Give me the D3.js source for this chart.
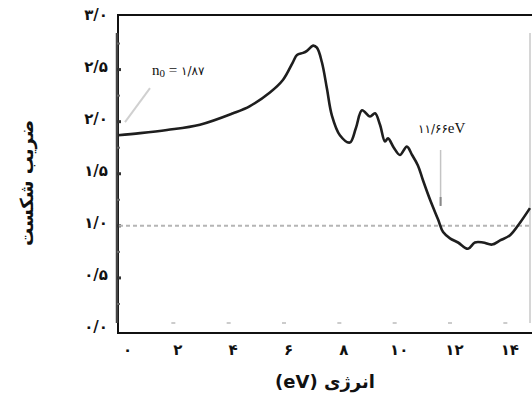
<!DOCTYPE html>
<html>
<head>
<meta charset="utf-8">
<script src="https://cdn.jsdelivr.net/npm/d3@7"></script>
<style>
  html, body { margin: 0; padding: 0; background: #fff; }
  svg { display: block; }
</style>
</head>
<body>
<svg id="chart" width="532" height="398"></svg>
<script>
// Refractive index spectrum: photon energy (eV) vs refractive index n
const energy = [0, 0.80, 1.77, 2.96, 4.16, 4.77, 5.49, 5.96, 6.32, 6.47, 6.69, 6.83, 7.05, 7.19,
  7.37, 7.55, 7.73, 8.02, 8.38, 8.60, 8.82, 9.11, 9.29, 9.47, 9.65, 9.76, 9.97, 10.19, 10.44,
  10.63, 10.84, 11.02, 11.28, 11.57, 11.75, 12.00, 12.29, 12.65, 12.90, 13.19, 13.52, 13.81,
  14.17, 14.53, 14.89];
const refIndex = [1.87, 1.89, 1.92, 1.97, 2.08, 2.15, 2.28, 2.40, 2.57, 2.64, 2.66, 2.68, 2.73, 2.71,
  2.57, 2.32, 2.06, 1.87, 1.80, 1.94, 2.11, 2.05, 2.08, 1.97, 1.81, 1.84, 1.75, 1.68, 1.76,
  1.68, 1.58, 1.44, 1.25, 1.06, 0.94, 0.88, 0.84, 0.78, 0.84, 0.84, 0.82, 0.86,
  0.91, 1.03, 1.17];

const xTicks = [0, 2, 4, 6, 8, 10, 12, 14];
const xTickLabels = ["۰", "۲", "۴", "۶", "۸", "۱۰", "۱۲", "۱۴"];
const yTicks = [0, 0.5, 1, 1.5, 2, 2.5, 3];
const yTickLabels = ["۰/۰", "۰/۵", "۱/۰", "۱/۵", "۲/۰", "۲/۵", "۳/۰"];
const yMinorTicks = [0.25, 0.75, 1.25, 1.75, 2.25, 2.75];

const n0 = 1.87;
const n0Label = "۱/۸۷";
const edgeEnergy = 11.66;
const edgeLabel = "۱۱/۶۶";
const edgeUnit = "eV";
const refLine = 1.0;

const xTitle = "انرژی (eV)";
const yTitle = "ضریب شکست";

const svg = d3.select("#chart");
const x = d3.scaleLinear().domain([0, 15]).range([118, 533]);
const y = d3.scaleLinear().domain([0, 3]).range([330, 17.5]);

const persian = "'DejaVu Sans', sans-serif";
const serif = "'Liberation Serif', 'DejaVu Sans', serif";

// outer frame
svg.append("path")
  .attr("d", `M${x(15) + 2},15 H118 V333 H${x(15) + 2}`)
  .attr("fill", "none").attr("stroke", "#111").attr("stroke-width", 2);

// inner axis lines
svg.append("line").attr("x1", 117).attr("x2", 117).attr("y1", 33).attr("y2", 323)
  .attr("stroke", "#444").attr("stroke-width", 2.5);
svg.append("line").attr("x1", 530).attr("x2", 530).attr("y1", 33).attr("y2", 323)
  .attr("stroke", "#c8c8c8").attr("stroke-width", 1.5);

// y axis ticks (inside) and labels
const yAxis = d3.axisLeft(y).tickValues(yTicks)
  .tickFormat((d, i) => yTickLabels[i]).tickSize(0).tickPadding(9);
const gy = svg.append("g").attr("transform", "translate(117,0)").call(yAxis);
gy.select(".domain").remove();
gy.selectAll("text")
  .attr("font-family", persian).attr("font-weight", "bold").attr("font-size", 15)
  .attr("fill", "#111").attr("dy", "0.1em");

svg.append("g").selectAll("line")
  .data(yTicks.filter(d => d > 0 && d < 3))
  .join("line")
  .attr("x1", 117).attr("x2", 121).attr("y1", d => y(d)).attr("y2", d => y(d))
  .attr("stroke", "#333").attr("stroke-width", 3);
svg.append("g").selectAll("line")
  .data(yMinorTicks)
  .join("line")
  .attr("x1", 117).attr("x2", 120).attr("y1", d => y(d)).attr("y2", d => y(d))
  .attr("stroke", "#666").attr("stroke-width", 2);

// x axis labels and faint tick marks
const xAxis = d3.axisBottom(x).tickValues(xTicks)
  .tickFormat((d, i) => xTickLabels[i]).tickSize(0).tickPadding(11);
const gx = svg.append("g").attr("transform", "translate(4,333)").call(xAxis);
gx.select(".domain").remove();
gx.selectAll("text")
  .attr("font-family", persian).attr("font-weight", "bold").attr("font-size", 15)
  .attr("fill", "#111");
gx.selectAll(".tick").filter(d => d === 0).select("text").attr("dx", 5);

svg.append("g").selectAll("line")
  .data(xTicks.filter(d => d > 0))
  .join("line")
  .attr("x1", d => x(d) - 2).attr("x2", d => x(d) + 2).attr("y1", 323).attr("y2", 323)
  .attr("stroke", "#bbb").attr("stroke-width", 1.5);

// n = 1 reference line
svg.append("line")
  .attr("x1", 119).attr("x2", 530).attr("y1", y(refLine)).attr("y2", y(refLine))
  .attr("stroke", "#b5b5b5").attr("stroke-width", 2).attr("stroke-dasharray", "4,3");

// spectrum curve
const data = energy.map((e, i) => [e, refIndex[i]]);
const line = d3.line().x(d => x(d[0])).y(d => y(d[1])).curve(d3.curveCatmullRom.alpha(0.5));
svg.append("path").datum(data)
  .attr("d", line)
  .attr("fill", "none").attr("stroke", "#1e1e1e").attr("stroke-width", 2.6)
  .attr("stroke-linejoin", "round");

// n0 annotation
svg.append("line")
  .attr("x1", x(0) + 7).attr("y1", y(n0) - 13).attr("x2", x(0) + 32).attr("y2", y(n0) - 47)
  .attr("stroke", "#d0d0d0").attr("stroke-width", 2);
const t0 = svg.append("text").attr("x", 152).attr("y", 75)
  .attr("font-family", serif).attr("font-size", 15).attr("fill", "#111");
t0.append("tspan").text("n");
t0.append("tspan").attr("font-size", 11).attr("dy", 2).text("0");
t0.append("tspan").attr("dy", -2).text(" = ");
t0.append("tspan").attr("font-family", persian).attr("font-size", 12).text(n0Label);

// absorption edge annotation
svg.append("line")
  .attr("x1", x(edgeEnergy)).attr("x2", x(edgeEnergy)).attr("y1", 150).attr("y2", 205)
  .attr("stroke", "#c4c4c4").attr("stroke-width", 1.5);
svg.append("line")
  .attr("x1", x(edgeEnergy)).attr("x2", x(edgeEnergy)).attr("y1", 197).attr("y2", 206)
  .attr("stroke", "#888").attr("stroke-width", 2);
const te = svg.append("text").attr("x", 418).attr("y", 133)
  .attr("fill", "#111").attr("direction", "ltr");
te.append("tspan").attr("font-family", persian).attr("font-size", 12).text(edgeLabel);
te.append("tspan").attr("font-family", serif).attr("font-size", 15).text(edgeUnit);

// axis titles
svg.append("text").attr("x", 325).attr("y", 388).attr("text-anchor", "middle")
  .attr("font-family", persian).attr("font-weight", "bold").attr("font-size", 18)
  .attr("fill", "#111").attr("direction", "rtl")
  .text(xTitle);
svg.append("text").attr("transform", "translate(33,183) rotate(-90)")
  .attr("text-anchor", "middle")
  .attr("font-family", persian).attr("font-weight", "bold").attr("font-size", 18)
  .attr("fill", "#111").attr("direction", "rtl")
  .text(yTitle);
</script>
</body>
</html>
